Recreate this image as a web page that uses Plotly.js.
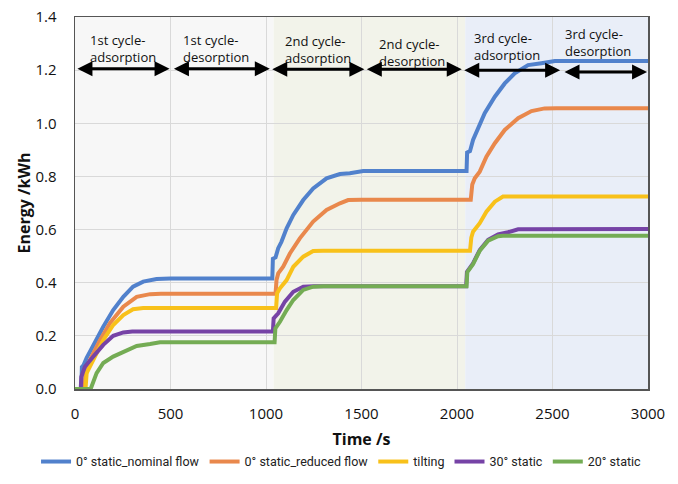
<!DOCTYPE html>
<html>
<head>
<meta charset="utf-8">
<script src="https://cdn.plot.ly/plotly-3.0.1.min.js"></script>
<style>html,body{margin:0;padding:0;background:#fff}#chart{width:678px;height:484px}</style>
</head>
<body>
<div id="chart"></div>
<script>
// ---- data ----
const seriesNames = ["0° static_nominal flow", "0° static_reduced flow", "tilting", "30° static", "20° static"];

const tNominal = [0, 33, 36, 45, 61, 96, 148, 200, 253, 304, 357, 427, 500, 1033, 1036, 1050, 1064, 1081, 1108, 1143, 1195, 1247, 1317, 1387, 1439, 1509, 1560, 2050, 2053, 2068, 2084, 2111, 2145, 2198, 2250, 2302, 2372, 2442, 2512, 3000];
const eNominal = [0, 0, 0.083, 0.09, 0.117, 0.165, 0.234, 0.297, 0.347, 0.385, 0.404, 0.414, 0.416, 0.416, 0.49, 0.495, 0.53, 0.554, 0.605, 0.655, 0.711, 0.755, 0.793, 0.809, 0.812, 0.82, 0.82, 0.82, 0.89, 0.895, 0.937, 0.981, 1.038, 1.1, 1.15, 1.188, 1.219, 1.226, 1.234, 1.234];

const tReduced = [0, 50, 55, 78, 131, 183, 253, 323, 393, 450, 1050, 1055, 1064, 1090, 1125, 1177, 1247, 1317, 1387, 1430, 1500, 2072, 2080, 2093, 2119, 2154, 2198, 2250, 2320, 2390, 2459, 2520, 3000];
const eReduced = [0, 0, 0.05, 0.109, 0.184, 0.248, 0.31, 0.347, 0.357, 0.358, 0.358, 0.41, 0.435, 0.46, 0.51, 0.567, 0.63, 0.674, 0.699, 0.711, 0.712, 0.712, 0.77, 0.793, 0.818, 0.874, 0.925, 0.975, 1.019, 1.046, 1.056, 1.057, 1.057];

const tTilting = [0, 55, 61, 96, 148, 200, 253, 304, 357, 1053, 1058, 1073, 1108, 1143, 1195, 1247, 1300, 2068, 2075, 2084, 2119, 2154, 2198, 2241, 3000];
const eTilting = [0, 0, 0.06, 0.109, 0.184, 0.241, 0.278, 0.30, 0.305, 0.305, 0.36, 0.379, 0.41, 0.46, 0.498, 0.519, 0.52, 0.52, 0.57, 0.592, 0.624, 0.667, 0.705, 0.724, 0.724];

const t30 = [0, 30, 33, 52, 96, 148, 200, 253, 300, 1036, 1040, 1064, 1099, 1143, 1195, 1250, 2048, 2052, 2084, 2119, 2163, 2215, 2267, 2320, 3000];
const e30 = [0, 0, 0.046, 0.084, 0.122, 0.166, 0.2, 0.213, 0.216, 0.216, 0.266, 0.285, 0.329, 0.366, 0.385, 0.387, 0.387, 0.441, 0.473, 0.523, 0.561, 0.582, 0.59, 0.601, 0.602];

const t20 = [0, 82, 113, 148, 200, 253, 323, 393, 445, 500, 1045, 1049, 1073, 1108, 1143, 1195, 1247, 1300, 2050, 2054, 2084, 2119, 2163, 2215, 2240, 3000];
const e20 = [0, 0, 0.06, 0.098, 0.122, 0.14, 0.162, 0.169, 0.176, 0.176, 0.176, 0.228, 0.253, 0.297, 0.335, 0.373, 0.385, 0.387, 0.387, 0.44, 0.47, 0.52, 0.558, 0.575, 0.577, 0.577];

const seriesColors = ["#5181CC", "#E9884C", "#F8C11A", "#7643A6", "#74AC54"];

// cycle shading bands
const bandStart = [0, 1040, 2043];
const bandEnd = [1040, 2043, 3000];
const bandColors = ["#f7f7f7", "#f2f3ea", "#e9eef8"];

// phase labels and arrows
const phaseLabels = ["1st cycle-<br>adsorption", "1st cycle-<br>desorption", "2nd cycle-<br>adsorption", "2nd cycle-<br>desorption", "3rd cycle-<br>adsorption", "3rd cycle-<br>desorption"];
const labelX = [250, 740, 1270, 1765, 2260, 2740];
const labelY = [1.28, 1.28, 1.276, 1.268, 1.29, 1.305];
const arrowStart = [5, 510, 1025, 1520, 2030, 2555];
const arrowEnd = [495, 1020, 1515, 2025, 2540, 2995];
const arrowY = [1.205, 1.205, 1.203, 1.203, 1.2, 1.193];

// ---- chart ----
const xs = [tNominal, tReduced, tTilting, t30, t20];
const ys = [eNominal, eReduced, eTilting, e30, e20];
const traces = seriesNames.map((n, i) => ({
  x: xs[i], y: ys[i], name: n, type: "scatter", mode: "lines",
  line: {color: seriesColors[i], width: 4, shape: "linear"}
}));

const shapes = bandStart.map((s, i) => ({
  type: "rect", xref: "x", yref: "paper", x0: s, x1: bandEnd[i], y0: 0, y1: 1,
  fillcolor: bandColors[i], line: {width: 0}, layer: "below"
}));

const annotations = [];
phaseLabels.forEach((txt, i) => {
  annotations.push({x: labelX[i], y: labelY[i], xref: "x", yref: "y", text: txt, showarrow: false,
    font: {family: "Open Sans, sans-serif", size: 13, color: "#111"}, align: "left"});
});
arrowStart.forEach((s, i) => {
  annotations.push({x: arrowEnd[i], y: arrowY[i], ax: s, ay: arrowY[i], xref: "x", yref: "y", axref: "x", ayref: "y",
    text: "", showarrow: true, arrowside: "end+start", arrowhead: 2, arrowsize: 1, arrowwidth: 3, arrowcolor: "#000", standoff: 0, startstandoff: 0});
});

const layout = {
  width: 678, height: 484,
  margin: {l: 75, r: 30, t: 17, b: 95, autoexpand: false},
  paper_bgcolor: "#fff", plot_bgcolor: "#fff",
  font: {family: "Open Sans, sans-serif", color: "#222"},
  xaxis: {range: [0, 3000], dtick: 500, tick0: 0, showgrid: true, gridcolor: "#d9d9d9", gridwidth: 1,
    showline: true, linecolor: "#555", linewidth: 1.5, mirror: true, zeroline: false, ticks: "",
    tickfont: {size: 15, color: "#111"}, ticklabelstandoff: 10,
    title: {text: "<b>Time /s</b>", font: {size: 16, color: "#111"}, standoff: 12}},
  yaxis: {range: [0, 1.4], dtick: 0.2, tick0: 0, tickformat: ".1f", showgrid: true, gridcolor: "#d9d9d9", gridwidth: 1,
    showline: true, linecolor: "#555", linewidth: 1.5, mirror: true, zeroline: false, ticks: "",
    tickfont: {size: 15, color: "#111"}, ticklabelstandoff: 14,
    title: {text: "<b>Energy /kWh</b>", font: {size: 16, color: "#111"}, standoff: 0}},
  legend: {orientation: "h", xref: "paper", yref: "paper", x: -0.068, xanchor: "left", y: -0.196, yanchor: "middle",
    font: {family: "Roboto, sans-serif", size: 12.5, color: "#222"}, itemwidth: 30, tracegroupgap: 0, bgcolor: "rgba(0,0,0,0)"},
  shapes: shapes,
  annotations: annotations,
  showlegend: true
};

Plotly.newPlot("chart", traces, layout, {displayModeBar: false, staticPlot: true});
</script>
</body>
</html>
